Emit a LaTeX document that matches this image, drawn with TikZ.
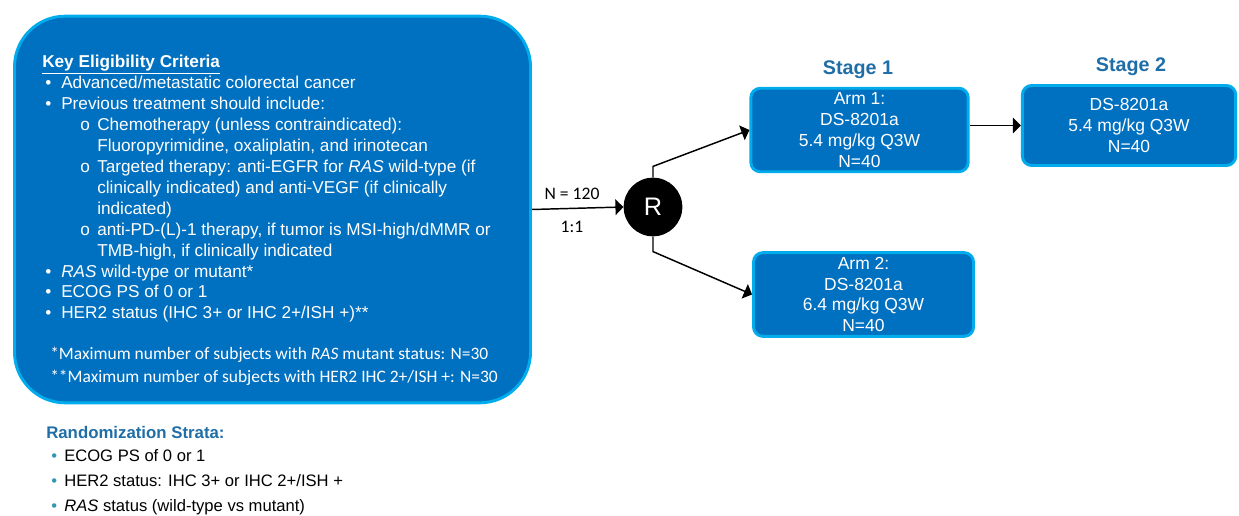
\documentclass[tikz,border=0pt]{standalone}
\usepackage{fontspec}
\setmainfont{Liberation Sans}
\newfontfamily\carlito{Carlito}
\usepackage{tikz}
\usetikzlibrary{arrows,positioning}
\definecolor{boxblue}{RGB}{0,112,192}
\definecolor{boxedge}{RGB}{0,172,236}
\definecolor{headblue}{RGB}{31,110,168}
\definecolor{dotteal}{RGB}{52,150,178}
\newcommand{\bl}{\hspace*{2.25pt}\makebox[12pt][l]{\textbullet}}
\newcommand{\sbl}{\hspace*{28.5pt}\makebox[12.75pt][l]{o}}
\newcommand{\sbt}{\hspace*{41.25pt}}
\newcommand{\tbl}{\hspace*{3pt}\makebox[9.75pt][l]{\textcolor{dotteal}{\textbullet}}}

\begin{document}
\begin{tikzpicture}[x=0.75pt,y=-0.75pt,
    armbox/.style={draw=boxedge, line width=2.2pt, fill=boxblue, rounded corners=7pt,
        text=white, align=center, font=\fontsize{13.1}{15.6}\selectfont},
    stagelbl/.style={text=headblue, font=\bfseries\fontsize{14.8}{17}\selectfont},
    link/.style={line width=1.1pt, -triangle 90}]
        \useasboundingbox (0,0) rectangle (1239,516);
        % eligibility box
        \node[draw=boxedge, line width=2.2pt, fill=boxblue, rounded corners=38pt,
            minimum width=387pt, minimum height=290pt] (crit) at (272.5,209.5) {};
        \node[anchor=north west, inner sep=0pt, align=left, text=white,
            font=\fontsize{12.9}{15.7}\selectfont] (critxt) at (42,55)
            {\underline{\textbf{Key Eligibility Criteria}}\\
             \bl Advanced/metastatic colorectal cancer\\
             \bl Previous treatment should include:\\
             \sbl Chemotherapy (unless contraindicated):\\
             \sbt Fluoropyrimidine, oxaliplatin, and irinotecan\\
             \sbl Targeted therapy: anti-EGFR for \textit{RAS} wild-type (if\\
             \sbt clinically indicated) and anti-VEGF (if clinically\\
             \sbt indicated)\\
             \sbl anti-PD-(L)-1 therapy, if tumor is MSI-high/dMMR or\\
             \sbt TMB-high, if clinically indicated\\
             \bl \textit{RAS} wild-type or mutant*\\
             \bl ECOG PS of 0 or 1\\
             \bl HER2 status (IHC 3+ or IHC 2+/ISH +)**};
        \node[anchor=north west, inner sep=0pt, align=left, text=white,
            font=\carlito\fontsize{13.1}{17.2}\selectfont] (critnote) at (50,347)
            {*Maximum number of subjects with \textit{RAS} mutant status: N=30\\
             **Maximum number of subjects with HER2 IHC 2+/ISH +: N=30};
        % strata
        \node[anchor=west, inner sep=0pt, text=headblue,
            font=\bfseries\fontsize{12.6}{15}\selectfont] (strata) at (46,432)
            {Randomization Strata:};
        \node[anchor=north west, inner sep=0pt, align=left,
            font=\fontsize{12.45}{18.75}\selectfont] (stratalist) at (47,449)
            {\tbl ECOG PS of 0 or 1\\
             \tbl HER2 status: IHC 3+ or IHC 2+/ISH +\\
             \tbl \textit{RAS} status (wild-type vs mutant)};
        % randomisation
        \node[circle, fill=black, minimum size=44pt, inner sep=0pt, text=white,
            font=\fontsize{19}{22}\selectfont] (R) at (653,207) {R};
        \node[font=\carlito\fontsize{13.2}{15}\selectfont] (nlbl) at (572,194) {N = 120};
        \node[font=\carlito\fontsize{13.2}{15}\selectfont] (ratio) at (572,227) {1:1};
        % arms
        \node[armbox, minimum width=163pt, minimum height=61pt] (arm1) at (859.5,130)
            {Arm 1:\\DS-8201a\\5.4 mg/kg Q3W\\N=40};
        \node[armbox, minimum width=165pt, minimum height=60pt] (arm2) at (863.5,294.5)
            {Arm 2:\\DS-8201a\\6.4 mg/kg Q3W\\N=40};
        \node[armbox, minimum width=160pt, minimum height=60pt] (stage2box) at (1129,125.5)
            {DS-8201a\\5.4 mg/kg Q3W\\N=40};
        \node[stagelbl] (st1) at (858,70) {Stage 1};
        \node[stagelbl] (st2) at (1131,67) {Stage 2};
        % connectors
        \draw[link] (crit.east) -- (R.west);
        \draw[link] (R.north) -- ++(0,-11) -- (arm1.west);
        \draw[link] (R.south) -- ++(0,15) -- (arm2.west);
        \draw[link] (arm1.east |- stage2box.west) -- (stage2box.west);
\end{tikzpicture}
\end{document}
